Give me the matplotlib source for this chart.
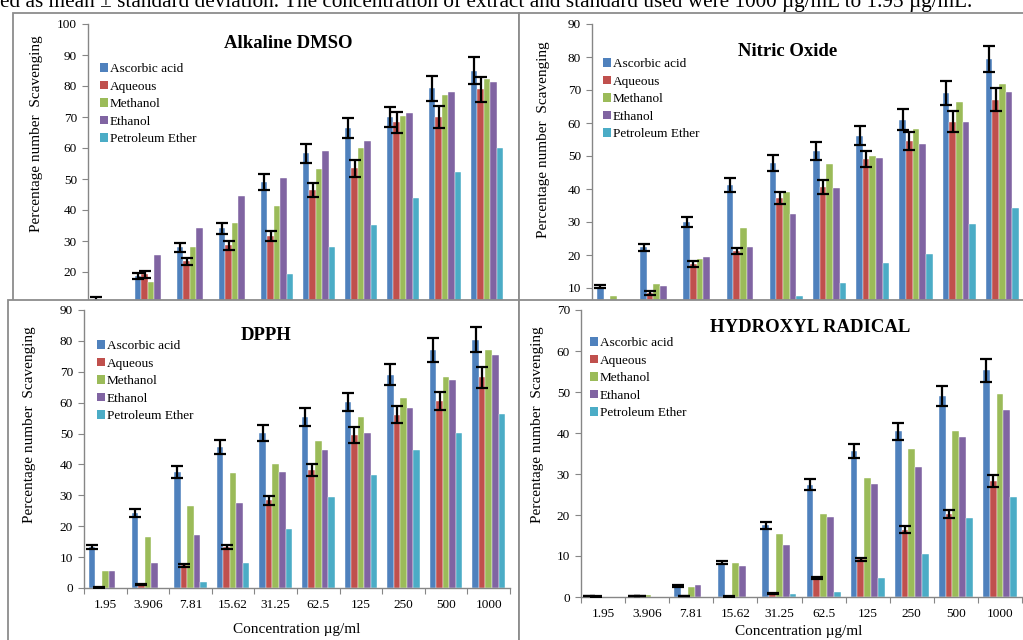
import matplotlib
matplotlib.use("Agg")
import matplotlib.pyplot as plt
from matplotlib.patches import Rectangle, Patch
import numpy as np

plt.rcParams['font.family'] = ['Liberation Serif', 'DejaVu Serif']

# ---------------- data ----------------
categories = ["1.95", "3.906", "7.81", "15.62", "31.25", "62.5", "125", "250", "500", "1000"]
series_names = ["Ascorbic acid", "Aqueous", "Methanol", "Ethanol", "Petroleum Ether"]
colors = ["#4F81BD", "#C0504D", "#9BBB59", "#8064A2", "#4BACC6"]

# Alkaline DMSO
dmso_ascorbic = [11.3, 18.8, 28.0, 34.1, 49.0, 58.3, 66.5, 70.0, 79.2, 85.0]
dmso_aqueous  = [8.0, 19.2, 23.4, 28.6, 31.7, 46.5, 53.4, 68.3, 70.0, 79.0]
dmso_methanol = [6.0, 16.9, 28.0, 35.9, 41.2, 53.3, 60.1, 70.3, 77.0, 82.1]
dmso_ethanol  = [10.8, 25.6, 34.2, 44.4, 50.2, 59.0, 62.2, 71.3, 78.2, 81.4]
dmso_petrol   = [1.0, 3.0, 6.0, 10.3, 19.4, 28.0, 35.3, 44.0, 52.2, 60.1]
dmso_err_ascorbic = [0.6, 1.0, 1.5, 1.7, 2.5, 3.0, 3.3, 3.3, 4.0, 4.2]
dmso_err_aqueous  = [0.5, 1.0, 1.2, 1.5, 1.6, 2.3, 2.7, 3.3, 3.4, 4.0]

# Nitric Oxide
no_ascorbic = [10.4, 22.3, 30.0, 41.2, 48.0, 51.6, 56.2, 61.0, 69.1, 79.4]
no_aqueous  = [5.0, 8.5, 17.2, 21.2, 37.3, 40.7, 49.0, 54.6, 60.4, 67.1]
no_methanol = [7.5, 11.2, 18.7, 28.3, 39.1, 47.6, 50.1, 58.2, 66.3, 71.9]
no_ethanol  = [4.0, 10.5, 19.3, 22.4, 32.5, 40.4, 49.4, 53.5, 60.4, 69.4]
no_petrol   = [0.5, 1.0, 2.0, 4.0, 7.5, 11.5, 17.5, 20.4, 29.3, 34.1]
no_err_ascorbic = [0.5, 1.1, 1.5, 2.1, 2.4, 2.7, 2.8, 3.1, 3.5, 4.0]
no_err_aqueous  = [0.3, 0.5, 0.9, 1.0, 1.9, 2.1, 2.4, 2.8, 3.1, 3.4]

# DPPH
dpph_ascorbic = [13.3, 24.2, 37.5, 45.6, 50.3, 55.4, 60.2, 69.1, 77.0, 80.4]
dpph_aqueous  = [0.1, 1.1, 7.3, 13.3, 28.4, 38.3, 49.5, 56.1, 60.5, 68.2]
dpph_methanol = [5.6, 16.4, 26.7, 37.2, 40.1, 47.6, 55.4, 61.5, 68.3, 77.0]
dpph_ethanol  = [5.4, 8.2, 17.3, 27.4, 37.5, 44.6, 50.3, 58.2, 67.5, 75.3]
dpph_petrol   = [0.0, 0.0, 1.9, 8.2, 19.2, 29.5, 36.5, 44.6, 50.1, 56.4]
dpph_err_ascorbic = [0.7, 1.3, 1.9, 2.3, 2.6, 2.8, 3.0, 3.4, 3.9, 4.0]
dpph_err_aqueous  = [0.1, 0.2, 0.4, 0.7, 1.4, 1.9, 2.5, 2.8, 3.0, 3.4]

# Hydroxyl radical
oh_ascorbic = [0.2, 0.2, 2.7, 8.4, 17.5, 27.4, 35.6, 40.4, 49.1, 55.3]
oh_aqueous  = [0.1, 0.2, 0.2, 0.1, 0.8, 4.6, 9.2, 16.4, 20.3, 28.3]
oh_methanol = [0.0, 0.5, 2.4, 8.3, 15.3, 20.3, 29.0, 36.2, 40.4, 49.5]
oh_ethanol  = [0.0, 0.0, 3.0, 7.5, 12.6, 19.5, 27.5, 31.6, 39.1, 45.6]
oh_petrol   = [0.0, 0.0, 0.0, 0.0, 0.7, 1.1, 4.6, 10.4, 19.2, 24.5]
oh_err_ascorbic = [0.05, 0.05, 0.2, 0.4, 0.8, 1.4, 1.8, 2.0, 2.4, 2.8]
oh_err_aqueous  = [0.05, 0.05, 0.05, 0.05, 0.1, 0.2, 0.4, 0.8, 1.0, 1.4]

header_text = ("ed as mean \u00b1 standard deviation. The concentration of extract and "
               "standard used were 1000 \u00b5g/mL to 1.95 \u00b5g/mL.")

# ---------------- layout helpers ----------------
W, H = 1023, 640
fig = plt.figure(figsize=(W / 100, H / 100), dpi=100)
fig.patch.set_facecolor("white")


def fx(x):
    return x / W


def fy(y):
    return 1 - y / H


def add_frame(x0, y0, x1, y1, z):
    r = Rectangle((fx(x0), fy(y1)), fx(x1 - x0), (y1 - y0) / H, transform=fig.transFigure,
                  facecolor="white", edgecolor="#8c8c8c", linewidth=1.3, zorder=z)
    fig.add_artist(r)


GRAY = "#868686"
bw = 1 / 6.5


def panel(x0, x1, ytop, ybot, ymax, ymin_tick, z, title, title_xy, ylab_xy, leg_xy, data,
          errs, show_x, xlab_xy=None):
    ax = fig.add_axes([fx(x0), fy(ybot), fx(x1 - x0), (ybot - ytop) / H], zorder=z)
    ax.set_facecolor("none")
    ax.set_xlim(-0.5, 9.5)
    ax.set_ylim(0, ymax)
    xs = np.arange(len(categories))
    for i, (vals, c) in enumerate(zip(data, colors)):
        ax.bar(xs + (i - 2) * bw, vals, width=bw, color=c, edgecolor="white",
               linewidth=0.3, zorder=2, label=series_names[i])
    for i, e in enumerate(errs):
        ax.errorbar(xs + (i - 2) * bw, data[i], yerr=e, fmt="none", ecolor="black",
                    elinewidth=1.6, capsize=4.3, capthick=1.6, zorder=5)
    for s in ["top", "right"]:
        ax.spines[s].set_visible(False)
    for s in ["left", "bottom"]:
        ax.spines[s].set_color(GRAY)
        ax.spines[s].set_linewidth(1.0)
    ax.set_yticks(np.arange(ymin_tick, ymax + 1, 10))
    ax.tick_params(axis="y", direction="out", length=4, color=GRAY, labelsize=9.5, pad=4)
    ax.set_xticks(np.arange(-0.5, 10, 1))
    ax.set_xticklabels([])
    ax.set_xticks(xs, minor=True)
    if show_x:
        ax.set_xticklabels(categories, minor=True, fontsize=9.5)
    ax.tick_params(axis="x", which="major", direction="out", length=4, color=GRAY)
    ax.tick_params(axis="x", which="minor", length=0, pad=8)
    fig.text(fx(title_xy[0]), fy(title_xy[1]), title, ha="center", va="center",
             fontsize=13.5, fontweight="bold", zorder=z + 1)
    fig.text(fx(ylab_xy[0]), fy(ylab_xy[1]), "Percentage number  Scavenging", rotation=90,
             ha="center", va="center", fontsize=11, zorder=z + 1)
    handles = [Patch(facecolor=c, edgecolor="none") for c in colors]
    ax.legend(handles, series_names, loc="upper left",
              bbox_to_anchor=(fx(leg_xy[0]), fy(leg_xy[1])), bbox_transform=fig.transFigure,
              frameon=False, fontsize=9.5, handlelength=0.6, handleheight=0.6,
              handletextpad=0.15, labelspacing=0.42, borderpad=0, borderaxespad=0)
    if xlab_xy is not None:
        fig.text(fx(xlab_xy[0]), fy(xlab_xy[1]), "Concentration \u00b5g/ml", ha="center",
                 va="center", fontsize=11, zorder=z + 1)
    return ax


# header text
fig.text(0, fy(7), header_text, ha="left", va="baseline", fontsize=15.3, zorder=0)

# top frames
add_frame(13, 13, 519, 660, 0)
add_frame(519, 13, 1040, 660, 0)

panel(88, 508, 24, 334, 100, 10, 1, "Alkaline DMSO", (288, 44), (37, 134), (100, 63),
      [dmso_ascorbic, dmso_aqueous, dmso_methanol, dmso_ethanol, dmso_petrol],
      [dmso_err_ascorbic, dmso_err_aqueous], False)
panel(592, 1024, 24, 321, 90, 10, 1, "Nitric Oxide", (788, 51), (543, 140), (603, 58),
      [no_ascorbic, no_aqueous, no_methanol, no_ethanol, no_petrol],
      [no_err_ascorbic, no_err_aqueous], False)

# bottom frames (cover top panels)
add_frame(8, 300, 519, 660, 3)
add_frame(519, 300, 1040, 660, 3)

panel(84, 510, 310, 588, 90, 0, 4, "DPPH", (266, 335), (30, 425), (97, 340),
      [dpph_ascorbic, dpph_aqueous, dpph_methanol, dpph_ethanol, dpph_petrol],
      [dpph_err_ascorbic, dpph_err_aqueous], True, (297, 630))
panel(581, 1022, 310, 597, 70, 0, 4, "HYDROXYL RADICAL", (810, 328), (538, 425), (590, 337),
      [oh_ascorbic, oh_aqueous, oh_methanol, oh_ethanol, oh_petrol],
      [oh_err_ascorbic, oh_err_aqueous], True, (799, 631))

fig.savefig("out.png", dpi=100, facecolor="white")
